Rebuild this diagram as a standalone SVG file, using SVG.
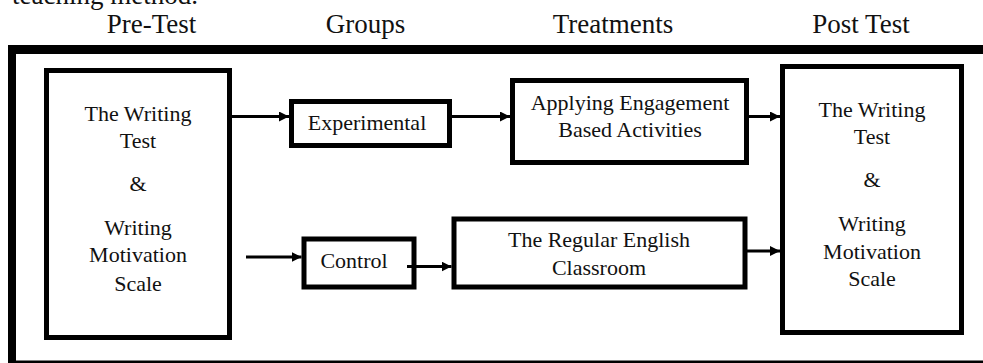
<svg xmlns="http://www.w3.org/2000/svg" width="983" height="363" viewBox="0 0 983 363">
<style>
text{font-family:"Liberation Serif","Times New Roman",serif;fill:#111;text-anchor:middle}
.h{font-size:27px}
.t{font-size:22px}
.box{fill:#fff;stroke:#000;stroke-width:5}
.c{stroke:#000;stroke-width:3;fill:none}
</style>
<defs>
<marker id="ah" markerUnits="userSpaceOnUse" markerWidth="10" markerHeight="10" refX="10" refY="5" orient="auto">
<path d="M0,0 L10,5 L0,10 z" fill="#000"/>
</marker>
</defs>
<rect width="983" height="363" fill="#fff"/>
<text x="12" y="4" style="font-size:27px;text-anchor:start">teaching method.</text>
<g id="headers">
<text class="h" x="151.5" y="33">Pre-Test</text>
<text class="h" x="365.5" y="33">Groups</text>
<text class="h" x="613" y="33">Treatments</text>
<text class="h" x="861" y="33">Post Test</text>
</g>
<g id="frame">
<rect x="8" y="45" width="975" height="9" fill="#000"/>
<rect x="8" y="45" width="8" height="318" fill="#000"/>
<rect x="8" y="360.5" width="975" height="2.5" fill="#000"/>
</g>
<g id="pretest">
<rect class="box" x="46.5" y="70.5" width="183" height="267"/>
<text class="t" x="138" y="121">The Writing</text>
<text class="t" x="138" y="148">Test</text>
<text class="t" x="138" y="191">&amp;</text>
<text class="t" x="138" y="235">Writing</text>
<text class="t" x="138" y="262">Motivation</text>
<text class="t" x="138" y="291">Scale</text>
</g>
<g id="experimental">
<rect class="box" x="291.5" y="101.5" width="158" height="44"/>
<text class="t" x="367" y="130">Experimental</text>
</g>
<g id="control">
<rect class="box" x="304" y="239" width="110" height="48"/>
<text class="t" x="354" y="268">Control</text>
</g>
<g id="applying">
<rect class="box" x="512.5" y="80.5" width="234" height="82"/>
<text class="t" x="630" y="110">Applying Engagement</text>
<text class="t" x="630" y="137">Based Activities</text>
</g>
<g id="regular">
<rect class="box" x="454" y="219" width="291" height="68"/>
<text class="t" x="599" y="247">The Regular English</text>
<text class="t" x="599" y="275">Classroom</text>
</g>
<g id="posttest">
<rect class="box" x="782.5" y="66.5" width="179" height="266"/>
<text class="t" x="872" y="117">The Writing</text>
<text class="t" x="872" y="144">Test</text>
<text class="t" x="872" y="187">&amp;</text>
<text class="t" x="872" y="231">Writing</text>
<text class="t" x="872" y="259">Motivation</text>
<text class="t" x="872" y="286">Scale</text>
</g>
<g id="connectors">
<line class="c" x1="232" y1="116.5" x2="289" y2="116.5" marker-end="url(#ah)"/>
<line class="c" x1="452" y1="116.5" x2="510" y2="116.5" marker-end="url(#ah)"/>
<line class="c" x1="749" y1="116.5" x2="780" y2="116.5" marker-end="url(#ah)"/>
<line class="c" x1="246" y1="257" x2="301.5" y2="257" marker-end="url(#ah)"/>
<line class="c" x1="407" y1="266.5" x2="451.5" y2="266.5" marker-end="url(#ah)"/>
<line class="c" x1="747" y1="251" x2="780" y2="251" marker-end="url(#ah)"/>
</g>
</svg>
